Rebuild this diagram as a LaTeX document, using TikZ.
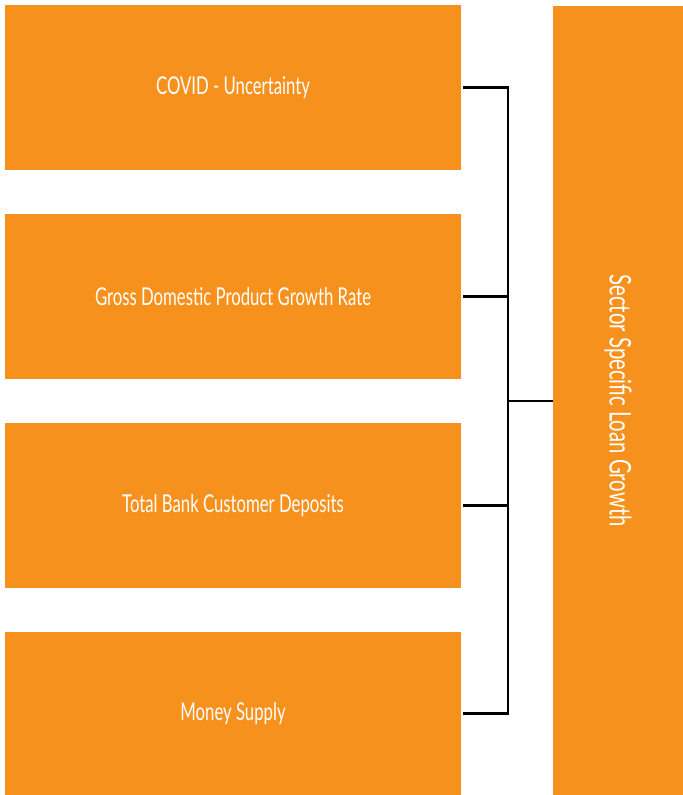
\documentclass[tikz,border=0pt]{standalone}
\usepackage{fontspec}
\setmainfont{Lato}[FakeStretch=0.68]
\usepackage{xcolor}
\usepackage{tikz}
\definecolor{factorange}{RGB}{247,145,30}
\tikzset{
	factor/.style={fill=factorange, text=white, inner sep=0pt, minimum width=9.12cm, minimum height=3.3cm, font=\fontsize{14}{16}\selectfont},
	link/.style={line width=1.5pt, black}
}

\begin{document}
\begin{tikzpicture}[x=0.02cm, y=-0.02cm]
			\useasboundingbox (0,0) rectangle (683,795);
			\node [factor] (covid) at (233,87.5) {COVID - Uncertainty};
			\node [factor] (gdp) at (233,296.5) {Gross Domestic Product Growth Rate};
			\node [factor] (deposits) at (233,505.5) {Total Bank Customer Deposits};
			\node [factor, minimum height=3.26cm] (money) at (233,713.5) {Money Supply};
			\node [factor, minimum width=15.78cm, minimum height=2.6cm, rotate=-90, font=\fontsize{17}{19}\selectfont] (loan) at (618,400.5) {Sector Specific Loan Growth};
			\coordinate (join) at (508,401);
			\draw [link, shorten <=1pt, shorten >=1pt] (covid.east) -| (join) |- (money.east);
			\draw [link, shorten <=1pt] (gdp.east) -- (gdp.east -| join);
			\draw [link, shorten <=1pt] (deposits.east) -- (deposits.east -| join);
			\draw [link] (join) -- (join -| loan.south);
		\end{tikzpicture}
\end{document}
